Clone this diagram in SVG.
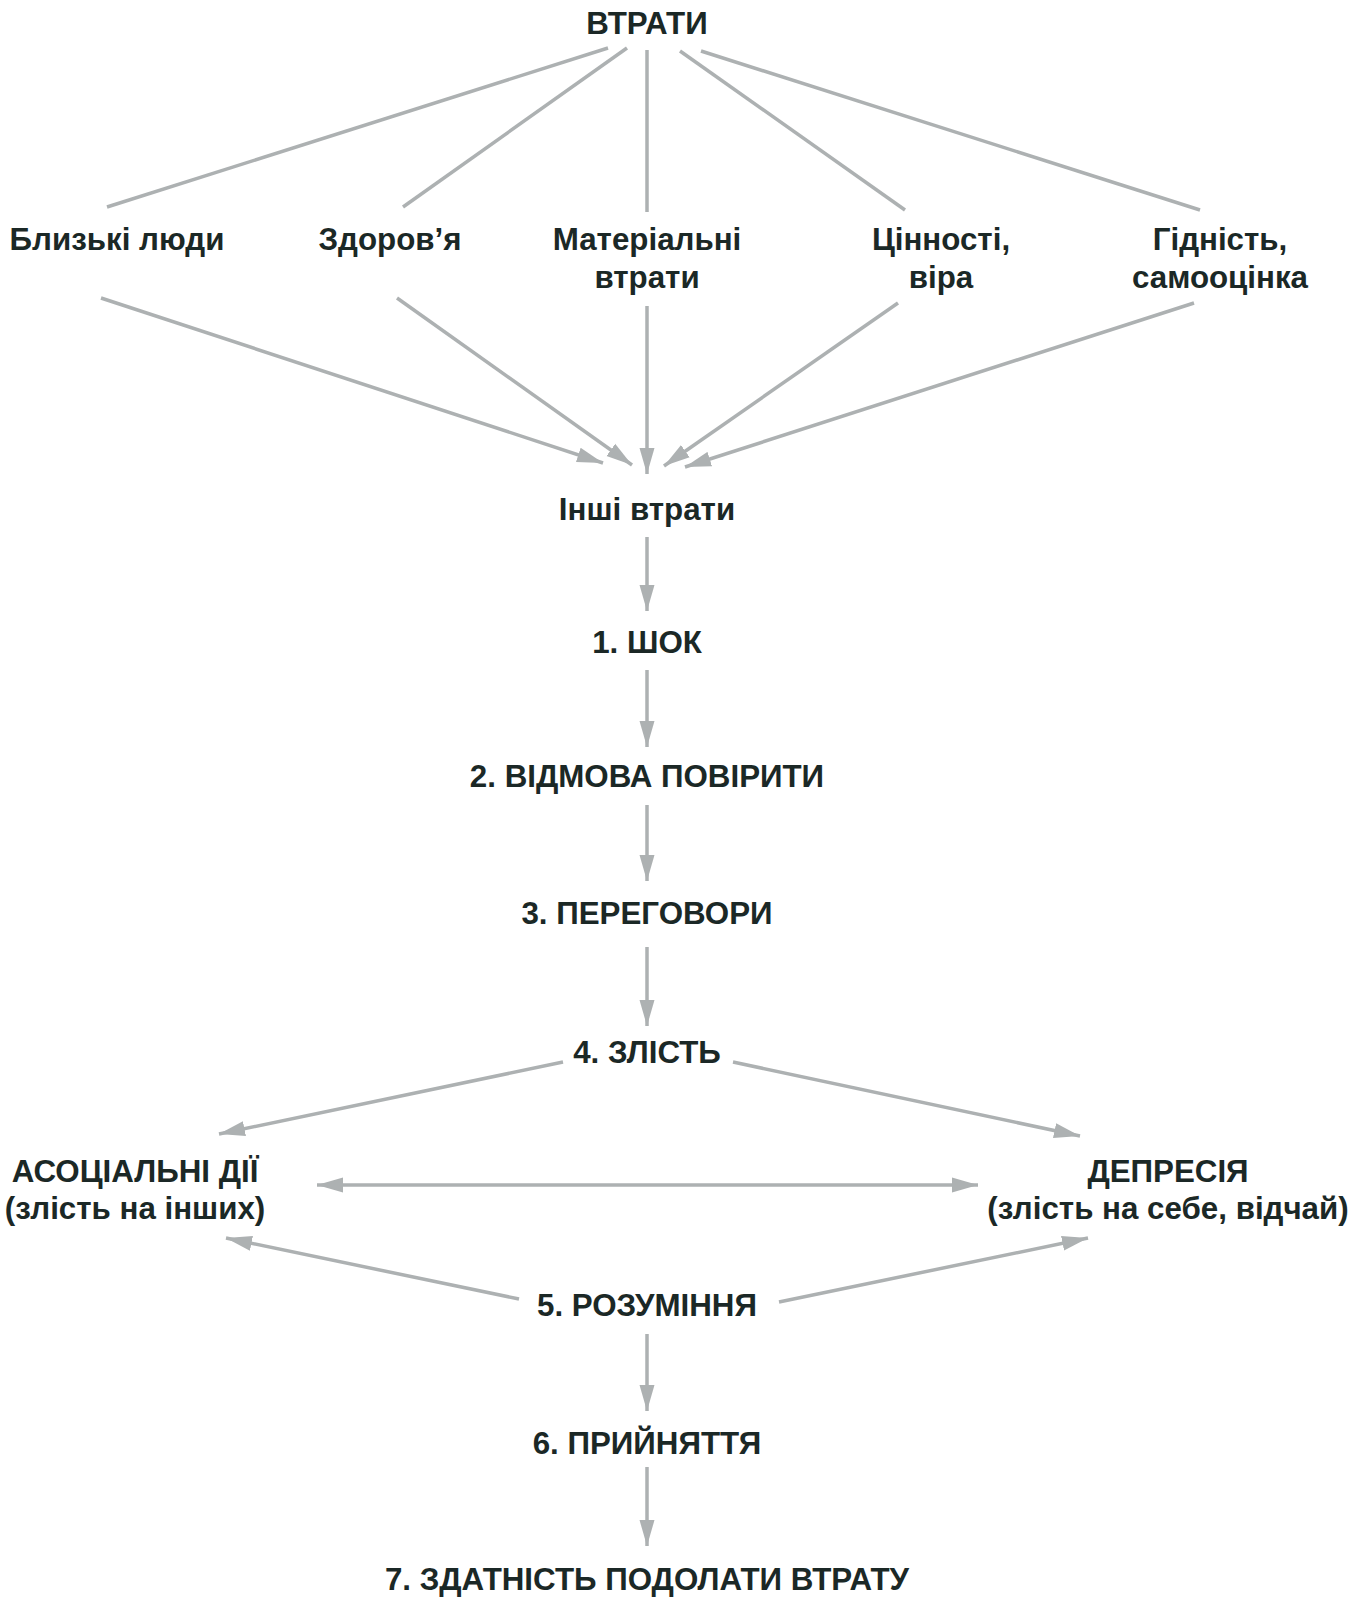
<svg xmlns="http://www.w3.org/2000/svg" width="1370" height="1597" viewBox="0 0 1370 1597">
<style>
text{font-family:"Liberation Sans",Arial,sans-serif;font-weight:bold;font-size:31.3px;fill:#1b2826;text-anchor:middle}
.c line{stroke:#adb1b2;stroke-width:3.5;fill:none}
.a{marker-end:url(#ah)}
.d{marker-start:url(#ahs);marker-end:url(#ah)}
</style>
<defs>
<marker id="ah" markerUnits="userSpaceOnUse" markerWidth="26" markerHeight="16" refX="26" refY="8" orient="auto" viewBox="0 0 26 16">
<path d="M0,0.5 L26,8 L0,15.5 z" fill="#adb1b2"/>
</marker>
<marker id="ahs" markerUnits="userSpaceOnUse" markerWidth="26" markerHeight="16" refX="0" refY="8" orient="auto" viewBox="0 0 26 16">
<path d="M26,0.5 L0,8 L26,15.5 z" fill="#adb1b2"/>
</marker>
</defs>
<g class="c" id="connectors">
<line x1="608" y1="48" x2="107" y2="207"/>
<line x1="627" y1="48" x2="403" y2="207"/>
<line x1="647" y1="50" x2="647" y2="212"/>
<line x1="680" y1="51" x2="905" y2="210"/>
<line x1="701" y1="51" x2="1200" y2="210"/>
<line class="a" x1="101" y1="298" x2="603" y2="463"/>
<line class="a" x1="397" y1="298" x2="632" y2="465"/>
<line class="a" x1="647" y1="306" x2="647" y2="474"/>
<line class="a" x1="898" y1="303" x2="664" y2="466"/>
<line class="a" x1="1194" y1="303" x2="685" y2="467"/>
<line class="a" x1="647" y1="537" x2="647" y2="611"/>
<line class="a" x1="647" y1="670" x2="647" y2="747"/>
<line class="a" x1="647" y1="805" x2="647" y2="881"/>
<line class="a" x1="647" y1="947" x2="647" y2="1026"/>
<line class="a" x1="563" y1="1062" x2="219" y2="1134"/>
<line class="a" x1="733" y1="1062" x2="1080" y2="1136"/>
<line class="d" x1="317" y1="1185" x2="978" y2="1185"/>
<line class="a" x1="519" y1="1299" x2="226" y2="1238"/>
<line class="a" x1="779" y1="1302" x2="1088" y2="1238"/>
<line class="a" x1="647" y1="1334" x2="647" y2="1411"/>
<line class="a" x1="647" y1="1467" x2="647" y2="1546"/>
</g>
<g id="vtraty"><text x="647" y="34">ВТРАТИ</text></g>
<g id="blyzki"><text x="117" y="250">Близькі люди</text></g>
<g id="zdorovia"><text x="390" y="250">Здоров’я</text></g>
<g id="materialni"><text x="647" y="250">Матеріальні</text><text x="647" y="288">втрати</text></g>
<g id="tsinnosti"><text x="941" y="250">Цінності,</text><text x="941" y="288">віра</text></g>
<g id="hidnist"><text x="1220" y="250">Гідність,</text><text x="1220" y="288">самооцінка</text></g>
<g id="inshi"><text x="647" y="520">Інші втрати</text></g>
<g id="shok"><text x="647" y="653">1. ШОК</text></g>
<g id="vidmova"><text x="647" y="787">2. ВІДМОВА ПОВІРИТИ</text></g>
<g id="perehovory"><text x="647" y="924">3. ПЕРЕГОВОРИ</text></g>
<g id="zlist"><text x="647" y="1063">4. ЗЛІСТЬ</text></g>
<g id="asotsialni"><text x="135" y="1182">АСОЦІАЛЬНІ ДІЇ</text><text x="135" y="1219">(злість на інших)</text></g>
<g id="depresiia"><text x="1168" y="1182">ДЕПРЕСІЯ</text><text x="1168" y="1219">(злість на себе, відчай)</text></g>
<g id="rozuminnia"><text x="647" y="1316">5. РОЗУМІННЯ</text></g>
<g id="pryiniattia"><text x="647" y="1454">6. ПРИЙНЯТТЯ</text></g>
<g id="zdatnist"><text x="647" y="1590">7. ЗДАТНІСТЬ ПОДОЛАТИ ВТРАТУ</text></g>
</svg>
